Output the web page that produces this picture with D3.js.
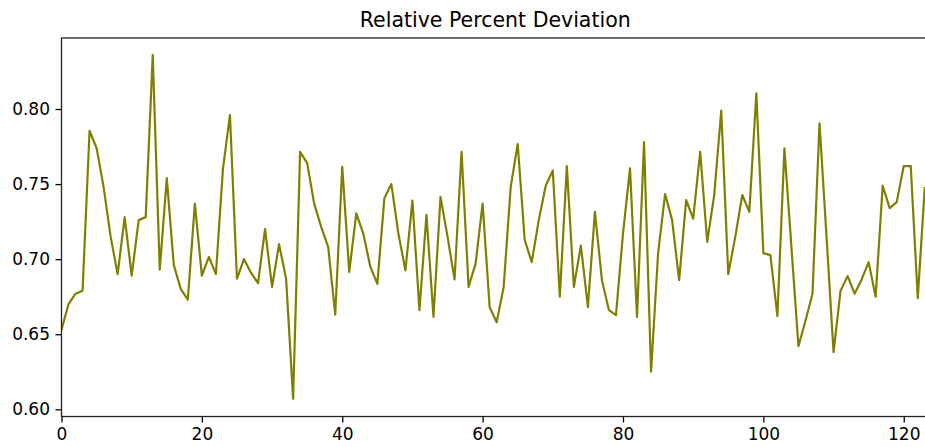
<!DOCTYPE html>
<html>
<head>
<meta charset="utf-8">
<script src="https://cdn.jsdelivr.net/npm/d3@7"></script>
<style>
  body { margin: 0; background: #fff; }
  svg { display: block; }
  text { font-family: "DejaVu Sans", sans-serif; fill: #000; }
</style>
</head>
<body>
<div id="chart-div"></div>
<script>
// values, one per index 0..123
const deviation = [
  0.653, 0.670, 0.677, 0.679, 0.7855, 0.774, 0.748, 0.715, 0.690, 0.728,
  0.689, 0.726, 0.728, 0.836, 0.693, 0.754, 0.696, 0.680, 0.673, 0.737,
  0.689, 0.7015, 0.690, 0.760, 0.796, 0.687, 0.700, 0.691, 0.684, 0.720,
  0.6815, 0.710, 0.687, 0.607, 0.7715, 0.764, 0.737, 0.7215, 0.708, 0.663,
  0.7615, 0.6915, 0.7305, 0.717, 0.695, 0.6835, 0.7405, 0.750, 0.717, 0.6925,
  0.739, 0.666, 0.7295, 0.6615, 0.7415, 0.715, 0.6865, 0.7715, 0.6815, 0.697,
  0.737, 0.668, 0.658, 0.6815, 0.748, 0.7767, 0.7127, 0.698, 0.726, 0.749,
  0.759, 0.675, 0.762, 0.6815, 0.709, 0.668, 0.7315, 0.686, 0.666, 0.6627,
  0.717, 0.7605, 0.6615, 0.778, 0.625, 0.7038, 0.7433, 0.726, 0.686, 0.7393,
  0.727, 0.7715, 0.7115, 0.7427, 0.799, 0.690, 0.715, 0.7427, 0.7315, 0.8105,
  0.704, 0.7027, 0.662, 0.7738, 0.708, 0.642, 0.659, 0.677, 0.7905, 0.715,
  0.638, 0.679, 0.6887, 0.677, 0.6865, 0.698, 0.675, 0.749, 0.734, 0.738,
  0.762, 0.762, 0.674, 0.748
];
const xTicks = [0, 20, 40, 60, 80, 100, 120];
const yTicks = [0.60, 0.65, 0.70, 0.75, 0.80];
const chartTitle = "Relative Percent Deviation";

const W = 925, H = 447;
// axes box, the right side runs a little past the window
const margin = {top: 38, left: 61.5, right: -4, bottom: 30.5};
const width = W - margin.left - margin.right,
      height = H - margin.top - margin.bottom;

const svg = d3.select("#chart-div")
  .append("svg")
  .attr("width", W)
  .attr("height", H);

const g = svg.append("g")
  .attr("transform", `translate(${margin.left}, ${margin.top})`);

const x = d3.scaleLinear()
  .domain([0, 123.6])
  .range([0, width]);

const y = d3.scaleLinear()
  .domain([0.5952, 0.8473])
  .range([height, 0]);

svg.append("defs").append("clipPath")
  .attr("id", "plot-clip")
  .append("rect")
  .attr("width", width)
  .attr("height", height);

// the line
const line = d3.line()
  .x((d, i) => x(i))
  .y(d => y(d));

g.append("path")
  .datum(deviation)
  .attr("clip-path", "url(#plot-clip)")
  .attr("fill", "none")
  .attr("stroke", "#808000")
  .attr("stroke-width", 2.2)
  .attr("stroke-linejoin", "round")
  .attr("d", line);

// axes
const xAxis = g.append("g")
  .attr("transform", `translate(0, ${height})`)
  .call(d3.axisBottom(x).tickValues(xTicks).tickSize(6).tickPadding(5).tickFormat(d3.format("d")));

const yAxis = g.append("g")
  .call(d3.axisLeft(y).tickValues(yTicks).tickSize(6).tickPadding(5.5).tickFormat(d3.format(".2f")));

[xAxis, yAxis].forEach(a => {
  a.select(".domain").remove();
  a.selectAll(".tick line").attr("stroke", "#000").attr("stroke-width", 1.3);
  a.selectAll(".tick text")
    .style("font-family", "DejaVu Sans, sans-serif")
    .style("font-size", "17px")
    .attr("fill", "#222");
});

// frame
g.append("rect")
  .attr("width", width)
  .attr("height", height)
  .attr("fill", "none")
  .attr("stroke", "#222")
  .attr("stroke-width", 1.3);

// title
svg.append("text")
  .attr("x", margin.left + width / 2)
  .attr("y", 26.5)
  .attr("text-anchor", "middle")
  .style("font-size", "20.5px")
  .attr("fill", "#222")
  .text(chartTitle);
</script>
</body>
</html>
